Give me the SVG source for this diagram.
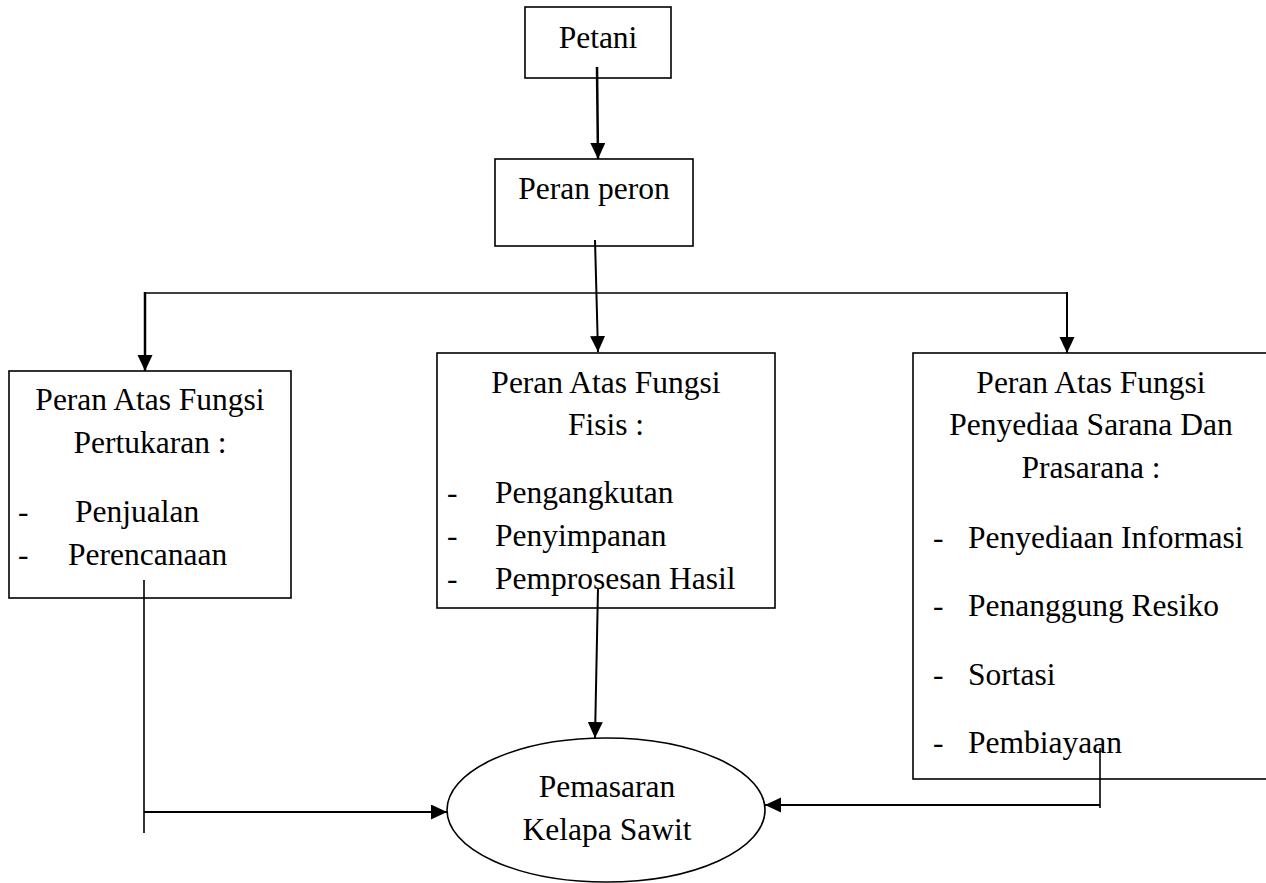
<svg xmlns="http://www.w3.org/2000/svg" width="1266" height="883" viewBox="0 0 1266 883">
<style>
  .box { fill: #ffffff; stroke: #000000; stroke-width: 1.6; }
  .t { font-family: "Liberation Serif", "Times New Roman", serif; font-size: 31.5px; fill: #000000; }
  .c { text-anchor: middle; }
  .conn { fill: none; stroke: #000000; stroke-width: 2; }
  .thick { stroke-width: 2.5; }
  .thin { stroke-width: 1.6; }
</style>
<defs>
  <marker id="ah" markerUnits="userSpaceOnUse" markerWidth="18" markerHeight="16" refX="16" refY="7.5" orient="auto">
    <path d="M0,0 L16,7.5 L0,15 z" fill="#000000"/>
  </marker>
</defs>
<rect width="1266" height="883" fill="#ffffff"/>

<g id="petani">
  <rect class="box" x="525" y="7" width="146" height="71"/>
  <text class="t c" x="598" y="48">Petani</text>
</g>

<g id="peran-peron">
  <rect class="box" x="495" y="159" width="198" height="87"/>
  <text class="t c" x="594" y="199">Peran peron</text>
</g>

<g id="fungsi-pertukaran">
  <rect class="box" x="9" y="371" width="282" height="227"/>
  <text class="t c" x="150" y="410">Peran Atas Fungsi</text>
  <text class="t c" x="150" y="453">Pertukaran :</text>
  <text class="t" x="18" y="522">-</text>
  <text class="t" x="75" y="522">Penjualan</text>
  <text class="t" x="18" y="565">-</text>
  <text class="t" x="68" y="565">Perencanaan</text>
</g>

<g id="fungsi-fisis">
  <rect class="box" x="437" y="353" width="338" height="255"/>
  <text class="t c" x="606" y="393">Peran Atas Fungsi</text>
  <text class="t c" x="606" y="435">Fisis :</text>
  <text class="t" x="447" y="503">-</text>
  <text class="t" x="495" y="503">Pengangkutan</text>
  <text class="t" x="447" y="546">-</text>
  <text class="t" x="495" y="546">Penyimpanan</text>
  <text class="t" x="447" y="589">-</text>
  <text class="t" x="495" y="589">Pemprosesan Hasil</text>
</g>

<g id="fungsi-sarana">
  <rect class="box" x="913" y="353" width="360" height="426"/>
  <text class="t c" x="1091" y="393">Peran Atas Fungsi</text>
  <text class="t c" x="1091" y="435">Penyediaa Sarana Dan</text>
  <text class="t c" x="1091" y="478">Prasarana :</text>
  <text class="t" x="933" y="548">-</text>
  <text class="t" x="968" y="548">Penyediaan Informasi</text>
  <text class="t" x="933" y="616">-</text>
  <text class="t" x="968" y="616">Penanggung Resiko</text>
  <text class="t" x="933" y="685">-</text>
  <text class="t" x="968" y="685">Sortasi</text>
  <text class="t" x="933" y="753">-</text>
  <text class="t" x="968" y="753">Pembiayaan</text>
</g>

<g id="pemasaran">
  <ellipse class="box" cx="606" cy="810" rx="159" ry="72"/>
  <text class="t c" x="607" y="797">Pemasaran</text>
  <text class="t c" x="607" y="840">Kelapa Sawit</text>
</g>

<g id="connectors">
  <line class="conn thick" x1="597" y1="67" x2="598" y2="159" marker-end="url(#ah)"/>
  <line class="conn" x1="595" y1="240" x2="598" y2="352" marker-end="url(#ah)"/>
  <line class="conn thin" x1="145" y1="293" x2="1067" y2="293"/>
  <line class="conn thick" x1="145" y1="292" x2="145" y2="371" marker-end="url(#ah)"/>
  <line class="conn" x1="1067" y1="292" x2="1067" y2="353" marker-end="url(#ah)"/>
  <line class="conn" x1="598" y1="588" x2="595" y2="738" marker-end="url(#ah)"/>
  <line class="conn thin" x1="144" y1="580" x2="144" y2="833"/>
  <line class="conn" x1="144" y1="812" x2="447" y2="812" marker-end="url(#ah)"/>
  <line class="conn thin" x1="1100" y1="748" x2="1100" y2="808"/>
  <line class="conn" x1="1100" y1="805" x2="765" y2="805" marker-end="url(#ah)"/>
</g>
</svg>
